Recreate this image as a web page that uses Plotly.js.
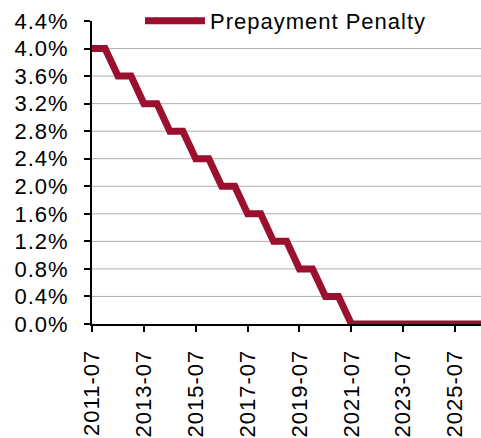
<!DOCTYPE html>
<html>
<head>
<meta charset="utf-8">
<script src="https://cdn.plot.ly/plotly-3.0.1.min.js"></script>
<style>
  html, body { margin: 0; padding: 0; background: #fff; }
  #chart { width: 481px; height: 438px; }
  #chart .xtick text, #chart .ytick text, #chart .legendtext { letter-spacing: 1px; }
  #chart .legend [clip-path] { clip-path: none !important; }
</style>
</head>
<body>
<div id="chart"></div>
<script>
// Penalty schedule: flat for half a year, then stepping down 0.4 pt by each July
const dates = [
  '2011-07-01', '2012-01-01', '2012-07-01', '2013-01-01', '2013-07-01',
  '2014-01-01', '2014-07-01', '2015-01-01', '2015-07-01', '2016-01-01',
  '2016-07-01', '2017-01-01', '2017-07-01', '2018-01-01', '2018-07-01',
  '2019-01-01', '2019-07-01', '2020-01-01', '2020-07-01', '2021-01-01',
  '2021-07-01', '2026-07-01'
];
const penalty = [
  4.0, 4.0, 3.6, 3.6, 3.2,
  3.2, 2.8, 2.8, 2.4, 2.4,
  2.0, 2.0, 1.6, 1.6, 1.2,
  1.2, 0.8, 0.8, 0.4, 0.4,
  0.0, 0.0
];
const xTicks = ['2011-07-01', '2013-07-01', '2015-07-01', '2017-07-01',
                '2019-07-01', '2021-07-01', '2023-07-01', '2025-07-01'];
const xTickText = ['2011-07', '2013-07', '2015-07', '2017-07',
                   '2019-07', '2021-07', '2023-07', '2025-07'];
const yTicks = [0, 0.4, 0.8, 1.2, 1.6, 2.0, 2.4, 2.8, 3.2, 3.6, 4.0, 4.4];
const gridLevels = [0.4, 0.8, 1.2, 1.6, 2.0, 2.4, 2.8, 3.2, 3.6, 4.0];

const font = { family: 'Liberation Sans, Arial, sans-serif', size: 22, color: '#000' };

const trace = {
  x: dates,
  y: penalty,
  type: 'scatter',
  mode: 'lines',
  name: 'Prepayment Penalty',
  line: { color: '#9b0f2f', width: 7, shape: 'linear' },
  cliponaxis: true
};

const gridShapes = gridLevels.map(v => ({
  type: 'line', xref: 'paper', x0: 0, x1: 1, yref: 'y', y0: v, y1: v,
  line: { color: '#b5acaa', width: 1 }, layer: 'below'
}));

const layout = {
  width: 481,
  height: 438,
  margin: { l: 92, r: 0, t: 21, b: 114, autoexpand: false },
  paper_bgcolor: '#fff',
  plot_bgcolor: '#fff',
  font: font,
  showlegend: true,
  legend: {
    xref: 'container', yref: 'container',
    x: 0.291, y: 1.014, xanchor: 'left', yanchor: 'top',
    bgcolor: 'rgba(0,0,0,0)',
    font: font,
    itemwidth: 60
  },
  xaxis: {
    type: 'date',
    range: ['2011-07-01', '2026-07-01'],
    tickmode: 'array',
    tickvals: xTicks,
    ticktext: xTickText,
    tickangle: -90,
    ticks: 'outside',
    ticklen: 6,
    tickwidth: 2,
    tickcolor: '#000',
    ticklabelstandoff: 9,
    showline: true,
    linecolor: '#000',
    linewidth: 2,
    showgrid: false,
    zeroline: false,
    automargin: false,
    tickfont: font
  },
  yaxis: {
    range: [0, 4.4],
    tickmode: 'array',
    tickvals: yTicks,
    ticktext: yTicks.map(v => v.toFixed(1) + '%'),
    ticks: 'outside',
    ticklen: 6,
    tickwidth: 2,
    tickcolor: '#000',
    ticklabelstandoff: 11,
    showline: true,
    linecolor: '#000',
    linewidth: 2,
    showgrid: false,
    zeroline: false,
    automargin: false,
    tickfont: font
  },
  shapes: gridShapes
};

Plotly.newPlot('chart', [trace], layout, { displayModeBar: false, staticPlot: true });
</script>
</body>
</html>
